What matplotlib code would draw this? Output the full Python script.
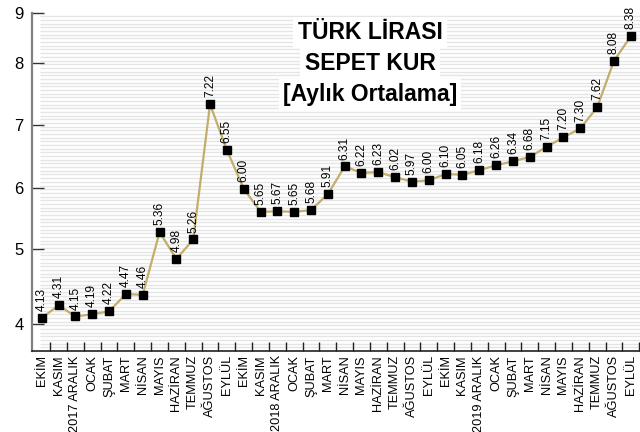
import numpy as np
import matplotlib
matplotlib.use("Agg")
import matplotlib.pyplot as plt
from matplotlib.collections import LineCollection

# ---- data ----
months = ["EKİM", "KASIM", "2017 ARALIK", "OCAK", "ŞUBAT", "MART", "NİSAN",
          "MAYIS", "HAZİRAN", "TEMMUZ", "AĞUSTOS", "EYLÜL",
          "EKİM", "KASIM", "2018 ARALIK", "OCAK", "ŞUBAT", "MART", "NİSAN",
          "MAYIS", "HAZİRAN", "TEMMUZ", "AĞUSTOS", "EYLÜL",
          "EKİM", "KASIM", "2019 ARALIK", "OCAK", "ŞUBAT", "MART", "NİSAN",
          "MAYIS", "HAZİRAN", "TEMMUZ", "AĞUSTOS", "EYLÜL"]

# plotted positions (as read against the y axis)
plotted = [4.08, 4.25, 4.10, 4.13, 4.17, 4.40, 4.39, 5.28, 4.87, 5.16,
           7.33, 6.60, 5.99, 5.61, 5.62, 5.61, 5.64, 5.90, 6.34, 6.24,
           6.25, 6.17, 6.10, 6.12, 6.22, 6.21, 6.28, 6.36, 6.42, 6.49,
           6.65, 6.80, 6.94, 7.28, 8.04, 8.53]

# printed value labels
value_labels = ["4.13", "4.31", "4.15", "4.19", "4.22", "4.47", "4.46", "5.36",
                "4.98", "5.26", "7.22", "6.55", "6.00", "5.65", "5.67", "5.65",
                "5.68", "5.91", "6.31", "6.22", "6.23", "6.02", "5.97", "6.00",
                "6.10", "6.05", "6.18", "6.26", "6.34", "6.68", "7.15", "7.20",
                "7.30", "7.62", "8.08", "8.38"]

y_ticks = [4, 5, 6, 7, 8, 9]
title_lines = ["TÜRK LİRASI", "SEPET KUR", "[Aylık Ortalama]"]

# ---- non-uniform y scale (tick spacing of the original) ----
KV = np.array([4, 5, 6, 7, 8, 9], float)
KH = np.array([0.0, 74.7, 136.0, 199.3, 261.0, 311.3])

def fwd(v):
    v = np.asarray(v, float)
    out = np.interp(v, KV, KH)
    s0 = (KH[1] - KH[0]) / (KV[1] - KV[0])
    s1 = (KH[-1] - KH[-2]) / (KV[-1] - KV[-2])
    out = np.where(v < KV[0], KH[0] + (v - KV[0]) * s0, out)
    out = np.where(v > KV[-1], KH[-1] + (v - KV[-1]) * s1, out)
    return out

def inv(h):
    h = np.asarray(h, float)
    out = np.interp(h, KH, KV)
    s0 = (KV[1] - KV[0]) / (KH[1] - KH[0])
    s1 = (KV[-1] - KV[-2]) / (KH[-1] - KH[-2])
    out = np.where(h < KH[0], KV[0] + (h - KH[0]) * s0, out)
    out = np.where(h > KH[-1], KV[-1] + (h - KH[-1]) * s1, out)
    return out

plt.rcParams['font.family'] = ['Liberation Sans', 'DejaVu Sans']

W, H = 640, 432
fig = plt.figure(figsize=(6.4, 4.32), dpi=100)
ax_l, ax_r, ax_t, ax_b = 32, 640, 12.7, 351
ax = fig.add_axes([ax_l / W, 1 - ax_b / H, (ax_r - ax_l) / W, (ax_b - ax_t) / H])

ax.set_yscale('function', functions=(fwd, inv))
x = np.arange(len(months))
ax.set_xlim(-0.58, 35.55)
ax.set_ylim(3.638, 9.0)

# background stripes
n = 92
segs = [[(8 / (ax_r - ax_l), k / n), (1, k / n)] for k in range(n)]
lc = LineCollection(segs, colors='#e5e5e5', linewidths=1.0, transform=ax.transAxes, zorder=0)
ax.add_collection(lc)

ax.plot(x, plotted, color='#c2ae6b', lw=1.6, marker='s', markersize=6,
        markerfacecolor='black', markeredgecolor='black', zorder=3)

for xi, yi, lab in zip(x, plotted, value_labels):
    ax.annotate(lab, (xi, yi), xytext=(0, 5), textcoords='offset points',
                rotation=90, ha='center', va='bottom', fontsize=8.6, color='black', zorder=4)

# axes styling
for s in ['top', 'right']:
    ax.spines[s].set_visible(False)
ax.spines['left'].set_color('#808080')
ax.spines['left'].set_linewidth(1.6)
ax.spines['bottom'].set_color('#222222')
ax.spines['bottom'].set_linewidth(1.2)

ax.set_yticks(y_ticks)
ax.set_yticklabels([str(t) for t in y_ticks], fontsize=12)
ax.tick_params(axis='y', direction='in', length=8.5, width=1.0, color='#333333', pad=6)
ax.yaxis.set_minor_locator(matplotlib.ticker.NullLocator())

ax.set_xticks(x)
ax.set_xticklabels(months, rotation=90, fontsize=9.2, va='top', ha='center')
ax.tick_params(axis='x', which='major', length=0, pad=3)
ax.set_xticks(x + 0.5, minor=True)
ax.tick_params(axis='x', which='minor', direction='in', length=6.5, width=1.0, color='#222222')

# title lines
ys = [32.5, 64.0, 94.5]
for t, yy in zip(title_lines, ys):
    fig.text(370 / W, 1 - yy / H, t, ha='center', va='center', fontsize=16.5,
             fontweight='bold', color='black',
             bbox=dict(facecolor='white', edgecolor='none', pad=3.0), zorder=5)

fig.savefig('out.png', dpi=100)
